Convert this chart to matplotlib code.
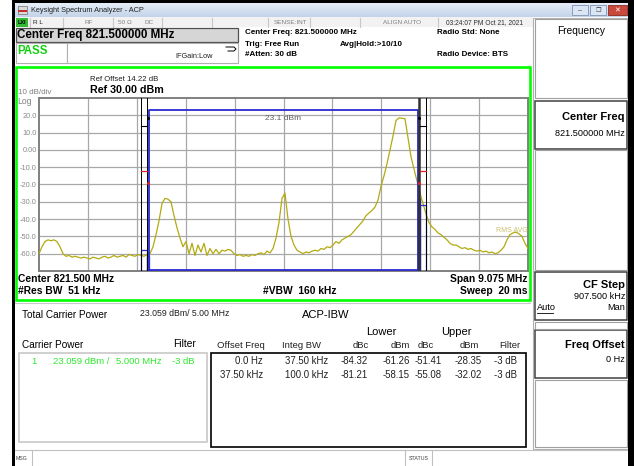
import numpy as np
import matplotlib
matplotlib.use('Agg')
import matplotlib.pyplot as plt
from matplotlib.patches import Rectangle
from matplotlib.colors import LinearSegmentedColormap

plt.rcParams['font.family'] = ['Liberation Sans', 'DejaVu Sans']

W, H = 634, 466

# instrument settings
center_mhz = 821.5
span_mhz = 9.075
ref_dbm = 30.0
db_div = 10.0

# trace level (dBm) at each sweep point, read left to right off the screen
trace_dbm = [
    -60, -56, -53, -52, -52.5, -52, -53, -56, -60, -61.5,
    -61, -62, -61.5, -62, -62.5, -62, -62.5, -63, -62, -62.5,
    -63, -62, -61.5, -62.5, -62, -61, -62, -61.5, -61, -62,
    -60.5, -61, -61.5, -60.5, -61, -61.5, -60.5, -60, -56, -49,
    -41, -31, -28, -28.5, -30, -38, -45, -51, -56, -53,
    -60, -54, -61, -55, -59, -54, -61, -57, -60, -57.5,
    -60, -58, -58.5, -57.5, -58, -60, -61, -60.5, -61.5, -61,
    -61.5, -60.5, -61, -60, -59.5, -60.5, -58.5, -59.5, -57, -51,
    -42, -28, -25, -40, -50, -55, -58, -59, -60, -59,
    -59.5, -58.5, -58, -58.5, -57, -57.5, -56, -56.5, -55, -53,
    -54, -52, -51, -50, -49, -47, -45, -43, -41, -38,
    -36.5, -35, -33, -29, -21, -15, -8, 0, 8, 17,
    18.5, 18.3, 18, 7, -4, -11, -18, -25, -31, -37,
    -42, -44.5, -46, -48, -49, -50.5, -52, -54, -55, -55,
    -56, -57, -56.5, -57.5, -57, -58, -58.5, -58, -59, -58.5,
    -59.5, -59, -60, -59.5, -58, -56, -52, -49, -48, -47.5,
    -48.5, -50, -54, -57,
]

# ACP-IBW results
carrier_bw = 5.0
carrier_dbm = 23.059
offset_mhz = [0.0, 0.0375]
integ_bw_mhz = [0.0375, 0.1]
offset_txt = ['0.0 Hz', '37.50 kHz']
integ_txt = ['37.50 kHz', '100.0 kHz']
lower_dbc = [-84.32, -81.21]
lower_dbm = [-61.26, -58.15]
upper_dbc = [-51.41, -55.08]
upper_dbm = [-28.35, -32.02]
filt_txt = ['-3 dB', '-3 dB']

ytick_vals = [20, 10, 0, -10, -20, -30, -40, -50, -60]
ytick_txt = ['20.0', '10.0', '0.00', '-10.0', '-20.0', '-30.0', '-40.0', '-50.0', '-60.0']

fig = plt.figure(figsize=(W / 100, H / 100), dpi=100)
ui = fig.add_axes([0, 0, 1, 1])
ui.axis('off')


def box(x0, y0, x1, y1, fc='none', ec='none', lw=1.0, z=1):
    ui.add_patch(Rectangle((x0, y0), x1 - x0, y1 - y0, facecolor=fc,
                           edgecolor=ec, linewidth=lw, zorder=z))


def txt(x, y, s, size=6, ha='left', color='black', weight='normal', **kw):
    ui.text(x, y, s, fontsize=size, ha=ha, va='center', color=color,
            fontweight=weight, zorder=5, **kw)


# window frame + title bar
title_cm = LinearSegmentedColormap.from_list('tb', ['#e6eef8', '#c3d3e9'])
ui.imshow(np.linspace(0, 1, 20).reshape(-1, 1), extent=(15, 628, 17, 3),
          cmap=title_cm, aspect='auto', zorder=1)
ui.set_xlim(0, W)
ui.set_ylim(H, 0)
box(12, 0, W, 3, fc='black', z=3)
box(12, 0, 15, H, fc='black', z=3)
box(628, 0, W, H, fc='black', z=3)
box(18, 6, 27, 14, fc='#d9d9d9', ec='#707070', lw=0.5, z=2)
box(18, 10, 27, 12, fc='#c83030', z=2)
txt(31, 10, 'Keysight Spectrum Analyzer - ACP', size=5.3, color='#202020')
box(572, 5, 588, 15, fc='#dbe6f4', ec='#7f93b3', lw=0.6, z=2)
box(590, 5, 606, 15, fc='#dbe6f4', ec='#7f93b3', lw=0.6, z=2)
box(608, 5, 627, 15, fc='#c94a3c', ec='#8a2a20', lw=0.6, z=2)
txt(580, 10.5, '–', size=5, ha='center', color='#404040')
txt(598, 10, '❐', size=4.5, ha='center', color='#404040', family='DejaVu Sans')
txt(617.5, 10, '✕', size=5, ha='center', color='white', family='DejaVu Sans')

# status row
box(15, 17, 533, 27, fc='#f2f2f2', z=1)
for sx in [30, 63, 113, 162, 212, 268, 310, 360, 438]:
    ui.plot([sx, sx], [18, 27], color='#c8c8c8', lw=0.8, zorder=2)
box(15.5, 18, 28, 26.5, fc='#33bb33', z=2)
txt(21.8, 22.3, 'LXI', size=4, ha='center', weight='bold')
txt(33, 22.5, 'R L', size=4.6, color='#202020')
txt(89, 22.5, 'RF', size=4.6, ha='center', color='#808080')
txt(125, 22.5, '50 Ω', size=4.6, ha='center', color='#808080')
txt(149, 22.5, 'DC', size=4.6, ha='center', color='#808080')
txt(291, 22.5, 'SENSE:INT', size=4.6, ha='center', color='#808080')
txt(402, 22.5, 'ALIGN AUTO', size=4.6, ha='center', color='#808080')
txt(484, 22.5, '03:24:07 PM Oct 21, 2021', size=4.8, ha='center', color='#303030')

# header
box(15.5, 28, 238, 42, fc='#d6d6d6', ec='#505050', lw=0.9, z=2)
txt(17, 35.3, 'Center Freq 821.500000 MHz', size=8.4, weight='bold')
box(15.5, 43, 66.5, 63, fc='white', ec='#b0b0b0', lw=0.8, z=2)
box(66.5, 43, 238, 63, fc='white', ec='#b0b0b0', lw=0.8, z=2)
txt(17, 51, 'PASS', size=8.3, weight='bold', color='#10d010')
txt(175, 57, 'IFGain:Low', size=5.3, color='#202020')
ui.plot([226, 234, 236, 234, 228], [47, 47, 49, 51, 51], color='black', lw=0.7, zorder=4)
hdr = [(245, 33, 'Center Freq: 821.500000 MHz'), (245, 44, 'Trig: Free Run'),
       (245, 55, '#Atten: 30 dB'), (340, 44, 'Avg|Hold:>10/10'),
       (437, 33, 'Radio Std: None'), (437, 55, 'Radio Device: BTS')]
for hx, hy, hs in hdr:
    txt(hx, hy, hs, size=5.8, weight='bold')

# green measurement frame
box(16, 67, 529.5, 300, fc='white', ec='#00ff00', lw=1.9, z=2)
txt(90, 79.5, 'Ref Offset 14.22 dB', size=5.6, color='#202020')
txt(90, 90, 'Ref 30.00 dBm', size=7.7, weight='bold')
txt(18, 92.5, '10 dB/div', size=5.8, color='#808080')
txt(17.5, 101.5, 'Log', size=6.2, color='#808080')
txt(18, 278.5, 'Center 821.500 MHz', size=7.4, weight='bold')
txt(18, 291, '#Res BW  51 kHz', size=7.4, weight='bold')
txt(263, 291, '#VBW  160 kHz', size=7.4, weight='bold')
txt(528, 278.5, 'Span 9.075 MHz', size=7.4, ha='right', weight='bold')
txt(528, 291, 'Sweep  20 ms', size=7.4, ha='right', weight='bold')

# results panel
ui.plot([15, 530], [302.5, 302.5], color='#c8c8c8', lw=0.8, zorder=2)
txt(22, 315, 'Total Carrier Power', size=7.2)
txt(140, 314, '23.059 dBm/ 5.00 MHz', size=6.3, color='#202020')
txt(302, 315, 'ACP-IBW', size=8)
txt(22, 345, 'Carrier Power', size=7.2)
txt(173, 344, 'Filter', size=7.4)
box(19, 353, 207, 442, ec='#c8c8c8', lw=1.2, z=2)
green = '#2ee82e'
txt(31, 361, '1', size=6.8, color=green)
txt(53, 361, '23.059 dBm /', size=6.8, color=green)
txt(116, 361, '5.000 MHz', size=6.8, color=green)
txt(172, 361, '-3 dB', size=6.8, color=green)
txt(381, 332, 'Lower', size=8, ha='center')
txt(456, 332, 'Upper', size=8, ha='center')
col_c = [241, 302, 361, 400, 426, 469, 510]
col_h = ['Offset Freq', 'Integ BW', 'dBc', 'dBm', 'dBc', 'dBm', 'Filter']
for cx, ch in zip(col_c, col_h):
    txt(cx, 345.5, ch, size=6.8, ha='center', color='#202020')
box(211, 353, 526, 447, ec='black', lw=1.2, z=2)
col_r = [263, 328, 368, 410, 442, 482, 517]
for r in range(len(offset_txt)):
    ry = 361 + 13.5 * r
    cells = [offset_txt[r], integ_txt[r], f'{lower_dbc[r]:.2f}', f'{lower_dbm[r]:.2f}',
             f'{upper_dbc[r]:.2f}', f'{upper_dbm[r]:.2f}', filt_txt[r]]
    for cx, cs in zip(col_r, cells):
        txt(cx, ry, cs, size=6.9, ha='right', color='#202020')

# message bar
ui.plot([15, 628], [449.5, 449.5], color='#c0c0c0', lw=0.8, zorder=2)
for sx in [32, 405, 432]:
    ui.plot([sx, sx], [450, H], color='#c0c0c0', lw=0.8, zorder=2)
txt(16, 458, 'MSG', size=3.8, color='#404040')
txt(418.5, 458, 'STATUS', size=3.8, ha='center', color='#404040')

# softkey panel
box(533, 18, 628, 449, ec='#b0b0b0', lw=0.8, z=2)
box(534.5, 19, 626.5, 98, ec='#a0a0a0', lw=0.8, z=2)
txt(581, 31, 'Frequency', size=7.3, ha='center')
for y0, y1 in [(101, 149), (272, 320), (330, 378)]:
    box(534.5, y0, 626.5, y1, ec='#404040', lw=1.1, z=2)
for y0, y1 in [(150, 270), (321.5, 328.5), (380, 447)]:
    box(534.5, y0, 626.5, y1, ec='#a0a0a0', lw=0.8, z=2)
txt(625, 117, 'Center Freq', size=8, ha='right', weight='bold')
txt(625, 133, '821.500000 MHz', size=6.6, ha='right')
txt(625, 285, 'CF Step', size=8, ha='right', weight='bold')
txt(625, 296.5, '907.500 kHz', size=6.6, ha='right')
txt(537, 308, 'Auto', size=6.6)
ui.plot([537, 553], [312.5, 312.5], color='black', lw=0.6, zorder=5)
txt(625, 308, 'Man', size=6.6, ha='right')
txt(625, 345, 'Freq Offset', size=8, ha='right', weight='bold')
txt(625, 360, '0 Hz', size=6.6, ha='right')

# spectrum graticule
ax = fig.add_axes([39 / W, 1 - 271 / H, 489 / W, 173 / H])
ax.set_zorder(4)
f_start = center_mhz - span_mhz / 2
f_stop = center_mhz + span_mhz / 2
ax.set_xlim(f_start, f_stop)
ax.set_ylim(ref_dbm - 10 * db_div, ref_dbm)
ax.set_xticks(np.linspace(f_start, f_stop, 11)[1:-1])
ax.set_xticklabels([])
ax.set_yticks(ytick_vals)
ax.set_yticklabels(ytick_txt)
ax.tick_params(length=0, labelsize=5.3, labelcolor='#8a8a8a', pad=1.5)
ax.grid(True, color='#a8a8a8', lw=0.9)
for s in ax.spines.values():
    s.set_color('#808080')
    s.set_linewidth(1.4)

freq = np.linspace(f_start, f_stop, len(trace_dbm))
ax.plot(freq, trace_dbm, color='#b3aa10', lw=0.9, zorder=3)

# carrier integration box
lo_edge = center_mhz - carrier_bw / 2
hi_edge = center_mhz + carrier_bw / 2
bot = ref_dbm - 10 * db_div + 0.4
blue = '#2a2ad0'
ax.plot([lo_edge, lo_edge, hi_edge, hi_edge], [bot, carrier_dbm, carrier_dbm, bot],
        color=blue, lw=1.3, zorder=4, clip_on=False)
ax.plot([lo_edge, hi_edge], [bot, bot], color=blue, lw=1.3, zorder=4, clip_on=False)

# offset integration boxes and limit lines
for k in range(len(offset_mhz)):
    a = offset_mhz[k]
    b = offset_mhz[k] + integ_bw_mhz[k]
    ax.plot([lo_edge - a, lo_edge - a, lo_edge - b, lo_edge - b],
            [bot, lower_dbm[k], lower_dbm[k], bot], color=blue, lw=0.9, zorder=4)
    ax.plot([hi_edge + a, hi_edge + a, hi_edge + b, hi_edge + b],
            [bot, upper_dbm[k], upper_dbm[k], bot], color=blue, lw=0.9, zorder=4)
outer = offset_mhz[-1] + integ_bw_mhz[-1]
inner = offset_mhz[-1]
for fx, lw in [(lo_edge - outer, 0.7), (lo_edge - inner, 0.7), (hi_edge + outer, 0.7)]:
    ax.axvline(fx, color='black', lw=lw, zorder=5)
ax.axvline(hi_edge + inner / 2, color='#303030', lw=1.8, zorder=5)
for fa, fb in [(lo_edge - outer, lo_edge - inner), (hi_edge + inner, hi_edge + outer)]:
    ax.plot([fa, fb], [13.8, 13.8], color='black', lw=0.8, zorder=6)
    ax.plot([fa, fb], [-12, -12], color='#e02020', lw=0.9, zorder=6)
ax.plot([lo_edge - 0.01, hi_edge + 0.01], [18.5, 18.5], ls='none', marker='o',
        ms=1.2, color='black', zorder=6)
ax.plot([lo_edge - 0.01, hi_edge + 0.01], [-19, -19], ls='none', marker='o',
        ms=1.2, color='#e02020', zorder=6)

ax.text(center_mhz, 18.3, f'{carrier_dbm:.1f} dBm', fontsize=6, color='#606060',
        ha='center', va='center', zorder=6)
ax.text(f_stop - 0.01, -46.5, 'RMS AVG', fontsize=5, color='#c8c070',
        ha='right', va='center', zorder=6)

fig.savefig('out.png', dpi=100)
